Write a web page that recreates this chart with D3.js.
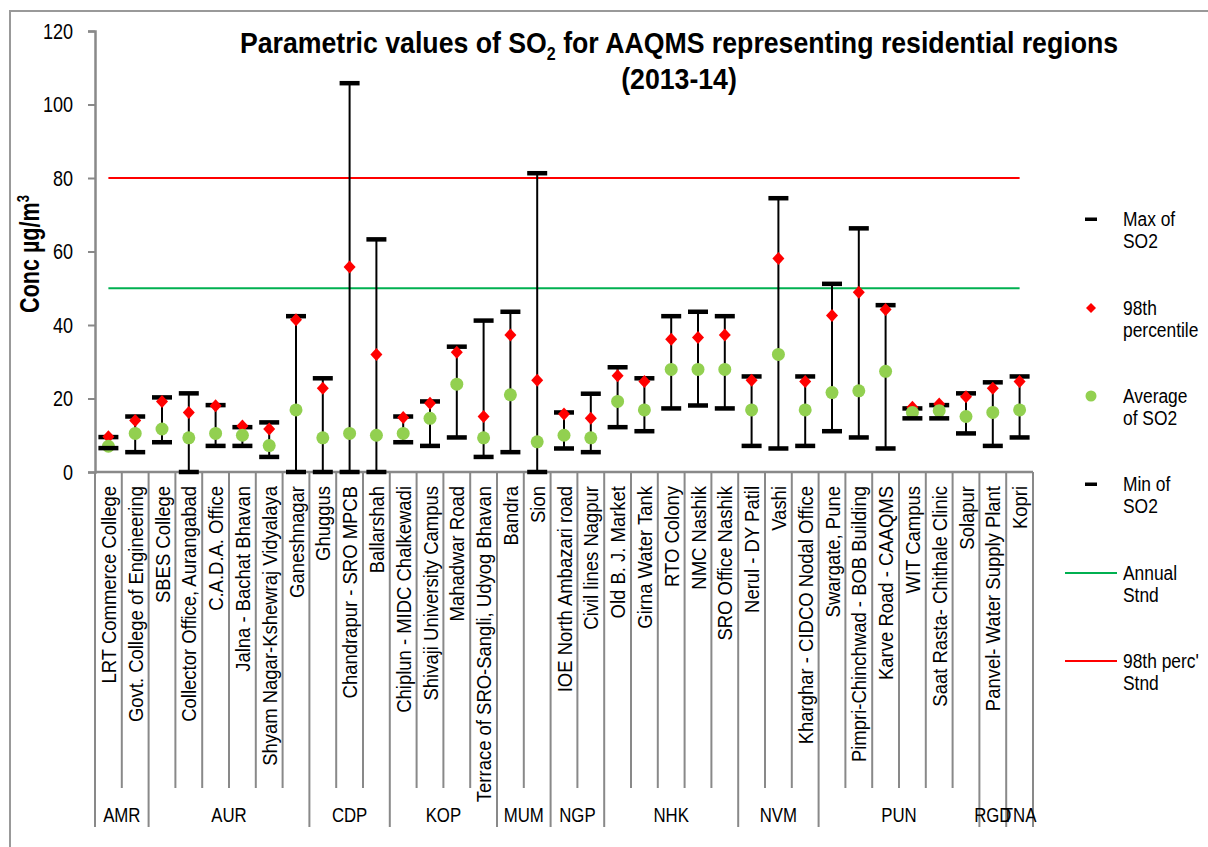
<!DOCTYPE html>
<html>
<head>
<meta charset="utf-8">
<script src="https://cdn.jsdelivr.net/npm/d3@7"></script>
<style>
  html, body { margin: 0; padding: 0; background: #fff; }
  svg { display: block; }
  text { font-family: "Liberation Sans", Arial, sans-serif; fill: #000; }
</style>
</head>
<body>
<svg id="chart" width="1208" height="847"></svg>
<script>
// ---------- DATA ----------
const categories = [
  "LRT Commerce College", "Govt. College of Engineering", "SBES College", "Collector Office, Aurangabad",
  "C.A.D.A. Office", "Jalna - Bachat Bhavan", "Shyam Nagar-Kshewraj Vidyalaya", "Ganeshnagar",
  "Ghuggus", "Chandrapur - SRO MPCB", "Ballarshah",
  "Chiplun - MIDC Chalkewadi", "Shivaji University Campus", "Mahadwar Road", "Terrace of SRO-Sangli, Udyog Bhavan",
  "Bandra", "Sion",
  "IOE North Ambazari road", "Civil lines Nagpur",
  "Old B. J. Market", "Girna Water Tank", "RTO Colony", "NMC Nashik", "SRO Office Nashik",
  "Nerul - DY Patil", "Vashi", "Kharghar - CIDCO Nodal Office",
  "Swargate, Pune", "Pimpri-Chinchwad - BOB Building", "Karve Road - CAAQMS", "WIT Campus",
  "Saat Rasta- Chithale Clinic", "Solapur",
  "Panvel- Water Supply Plant", "Kopri"
];
const groupNames = ["AMR", "AUR", "CDP", "KOP", "MUM", "NGP", "NHK", "NVM", "PUN", "RGD", "TNA"];
const groupSizes = [2, 6, 3, 4, 2, 2, 5, 3, 6, 1, 1];

const maxSO2 = [9.5, 15.1, 20.3, 21.4, 18.2, 12.2, 13.5, 42.4, 25.5, 105.8, 63.3, 15.1, 19.2, 34.1, 41.2, 43.6, 81.3, 16.2, 21.3, 28.5, 25.5, 42.4, 43.6, 42.4, 26.0, 74.5, 26.0, 51.2, 66.3, 45.4, 17.3, 18.2, 21.4, 24.4, 26.0];
const p98SO2 = [9.6, 14.0, 19.2, 16.2, 18.0, 12.5, 11.7, 41.4, 22.8, 55.8, 32.0, 14.8, 18.7, 32.6, 15.1, 37.3, 25.0, 15.8, 14.6, 26.2, 24.6, 36.1, 36.6, 37.3, 25.0, 58.1, 24.6, 42.6, 48.9, 44.2, 17.6, 18.5, 20.5, 22.8, 24.6];
const avgSO2 = [7.0, 10.5, 11.7, 9.3, 10.5, 10.0, 7.2, 16.9, 9.3, 10.5, 10.0, 10.5, 14.6, 23.9, 9.3, 21.0, 8.2, 10.0, 9.3, 19.2, 16.9, 27.9, 27.9, 27.9, 16.9, 32.0, 16.9, 21.6, 22.1, 27.4, 16.2, 16.7, 15.1, 16.2, 16.9];
const minSO2 = [6.5, 5.4, 8.1, 0, 7.1, 7.1, 4.1, 0, 0, 0, 0, 8.1, 7.1, 9.4, 4.1, 5.4, 0, 6.4, 5.4, 12.2, 11.1, 17.3, 18.1, 17.3, 7.1, 6.4, 7.1, 11.1, 9.4, 6.4, 14.6, 14.6, 10.5, 7.1, 9.4];
const annualStnd = 50;
const p98Stnd = 80;
const yTicks = [0, 20, 40, 60, 80, 100, 120];

const legendLabels = [["Max of", "SO2"], ["98th", "percentile"], ["Average", "of SO2"], ["Min of", "SO2"], ["Annual", "Stnd"], ["98th perc'", "Stnd"]];

// ---------- LAYOUT ----------
const svg = d3.select("#chart");
const plot = { left: 95, right: 1033, top: 31, bottom: 472 };
const GREEN = "#92D050", RED = "#FF0000", LINEGREEN = "#00B050", AXIS = "#898989";

const x = d3.scaleBand().domain(d3.range(categories.length)).range([plot.left, plot.right]).padding(0);
const y = d3.scaleLinear().domain([0, 120]).range([plot.bottom, plot.top]);
const cx = i => x(i) + x.bandwidth() / 2;

// text drawn with a horizontal squeeze to emulate the narrow typeface of the original
function narrowText(parent, px, py, str, size, opt = {}) {
  const sx = opt.sx || 0.84;
  const t = parent.append("text")
    .attr("transform", `translate(${px},${py}) rotate(${opt.rotate || 0}) scale(${sx},1)`)
    .attr("text-anchor", opt.anchor || "start")
    .style("font-size", size + "px");
  if (opt.bold) t.style("font-weight", "bold");
  if (str !== null) t.text(str);
  return t;
}

function diamondPath(w, h) {
  return `M0,${-h / 2}L${w / 2},0L0,${h / 2}L${-w / 2},0Z`;
}

// outer border
svg.append("rect").attr("x", 10).attr("y", 11).attr("width", 1230).attr("height", 860)
  .attr("fill", "none").attr("stroke", "#999").attr("stroke-width", 2);

// Y axis
const YSX = 0.82;
const yAxis = svg.append("g").attr("transform", `translate(${plot.left},0)`)
  .call(d3.axisLeft(y).tickValues(yTicks).tickSize(7).tickPadding(15).tickFormat(d3.format("d")));
yAxis.select(".domain").attr("stroke", AXIS).attr("stroke-width", 2.5);
yAxis.selectAll(".tick line").attr("stroke", AXIS).attr("stroke-width", 2);
yAxis.selectAll(".tick text").style("font-size", "22px").attr("fill", "#000")
  .attr("x", -22 / YSX).attr("transform", `scale(${YSX},1)`);

// Y title
const yt = narrowText(svg, 39, 254, null, 28, { rotate: -90, anchor: "middle", bold: true, sx: 0.77 });
yt.append("tspan").text("Conc µg/m");
yt.append("tspan").attr("dy", -10).style("font-size", "17px").text("3");

// X axis: category boundaries
const boundaries = d3.range(categories.length + 1).map(i => i < categories.length ? x(i) : plot.right);
const groupStarts = [0];
groupSizes.forEach((s, k) => groupStarts.push(groupStarts[k] + s));

svg.append("g").selectAll("line").data(boundaries).join("line")
  .attr("x1", d => d).attr("x2", d => d)
  .attr("y1", plot.bottom)
  .attr("y2", (d, i) => groupStarts.includes(i) ? 827 : 788)
  .attr("stroke", AXIS).attr("stroke-width", 2);

svg.append("line").attr("x1", plot.left).attr("x2", plot.right).attr("y1", plot.bottom).attr("y2", plot.bottom)
  .attr("stroke", AXIS).attr("stroke-width", 2.5);

// category labels
const XSX = 0.88;
const xAxis = svg.append("g").attr("transform", `translate(0,${plot.bottom})`)
  .call(d3.axisBottom(x).tickSize(0).tickFormat(i => categories[i]));
xAxis.select(".domain").remove();
xAxis.selectAll(".tick text")
  .attr("transform", `rotate(-90) scale(${XSX},1)`)
  .attr("x", -14 / XSX).attr("y", 0).attr("dy", "0.36em")
  .attr("text-anchor", "end")
  .style("font-size", "21px").attr("fill", "#000");

// group labels
const gl = svg.append("g");
groupNames.forEach((name, k) => {
  narrowText(gl, (boundaries[groupStarts[k]] + boundaries[groupStarts[k + 1]]) / 2, 822, name, 21, { anchor: "middle", sx: 0.8 });
});

// standard lines
svg.append("line").attr("x1", cx(0)).attr("x2", cx(categories.length - 1))
  .attr("y1", y(p98Stnd)).attr("y2", y(p98Stnd)).attr("stroke", RED).attr("stroke-width", 2);
svg.append("line").attr("x1", cx(0)).attr("x2", cx(categories.length - 1))
  .attr("y1", y(annualStnd)).attr("y2", y(annualStnd)).attr("stroke", LINEGREEN).attr("stroke-width", 2);

// high-low lines
const idx = d3.range(categories.length);
svg.append("g").selectAll("line").data(idx).join("line")
  .attr("x1", cx).attr("x2", cx)
  .attr("y1", i => y(maxSO2[i])).attr("y2", i => y(minSO2[i]))
  .attr("stroke", "#000").attr("stroke-width", 2);

const dashW = 20, dashH = 4.5;
// max dashes
svg.append("g").selectAll("rect").data(idx).join("rect")
  .attr("x", i => cx(i) - dashW / 2).attr("y", i => y(maxSO2[i]) - dashH / 2)
  .attr("width", dashW).attr("height", dashH).attr("fill", "#000");
// 98th diamonds
svg.append("g").selectAll("path").data(idx).join("path")
  .attr("d", diamondPath(12, 13))
  .attr("transform", i => `translate(${cx(i)},${y(p98SO2[i])})`)
  .attr("fill", RED);
// average circles
svg.append("g").selectAll("circle").data(idx).join("circle")
  .attr("cx", cx).attr("cy", i => y(avgSO2[i])).attr("r", 6.5).attr("fill", GREEN);
// min dashes
svg.append("g").selectAll("rect").data(idx).join("rect")
  .attr("x", i => cx(i) - dashW / 2).attr("y", i => y(minSO2[i]) - dashH / 2)
  .attr("width", dashW).attr("height", dashH).attr("fill", "#000");

// Title
const title = narrowText(svg, 679, 53, null, 30, { anchor: "middle", bold: true, sx: 0.89 });
title.append("tspan").text("Parametric values of SO");
title.append("tspan").attr("dy", 7).style("font-size", "18px").text("2");
title.append("tspan").attr("dy", -7).text(" for AAQMS representing residential regions");
narrowText(svg, 679, 89, "(2013-14)", 30, { anchor: "middle", bold: true, sx: 0.89 });

// Legend
const legY = [219, 308, 396, 484, 573, 661];
const leg = svg.append("g").selectAll("g").data(legendLabels).join("g")
  .attr("transform", (d, k) => `translate(0,${legY[k]})`);
leg.each(function (d, k) {
  const g = d3.select(this);
  if (k === 0 || k === 3) g.append("rect").attr("x", 1085).attr("y", -1.5).attr("width", 12).attr("height", 3.5).attr("fill", "#000");
  if (k === 1) g.append("path").attr("d", diamondPath(10, 10)).attr("transform", "translate(1091,0)").attr("fill", RED);
  if (k === 2) g.append("circle").attr("cx", 1091).attr("cy", 0).attr("r", 5.5).attr("fill", GREEN);
  if (k === 4) g.append("line").attr("x1", 1065).attr("x2", 1117).attr("stroke", LINEGREEN).attr("stroke-width", 2);
  if (k === 5) g.append("line").attr("x1", 1065).attr("x2", 1117).attr("stroke", RED).attr("stroke-width", 2);
  narrowText(g, 1123, 7, d[0], 20, { sx: 0.87 });
  narrowText(g, 1123, 29, d[1], 20, { sx: 0.87 });
});
</script>
</body>
</html>
